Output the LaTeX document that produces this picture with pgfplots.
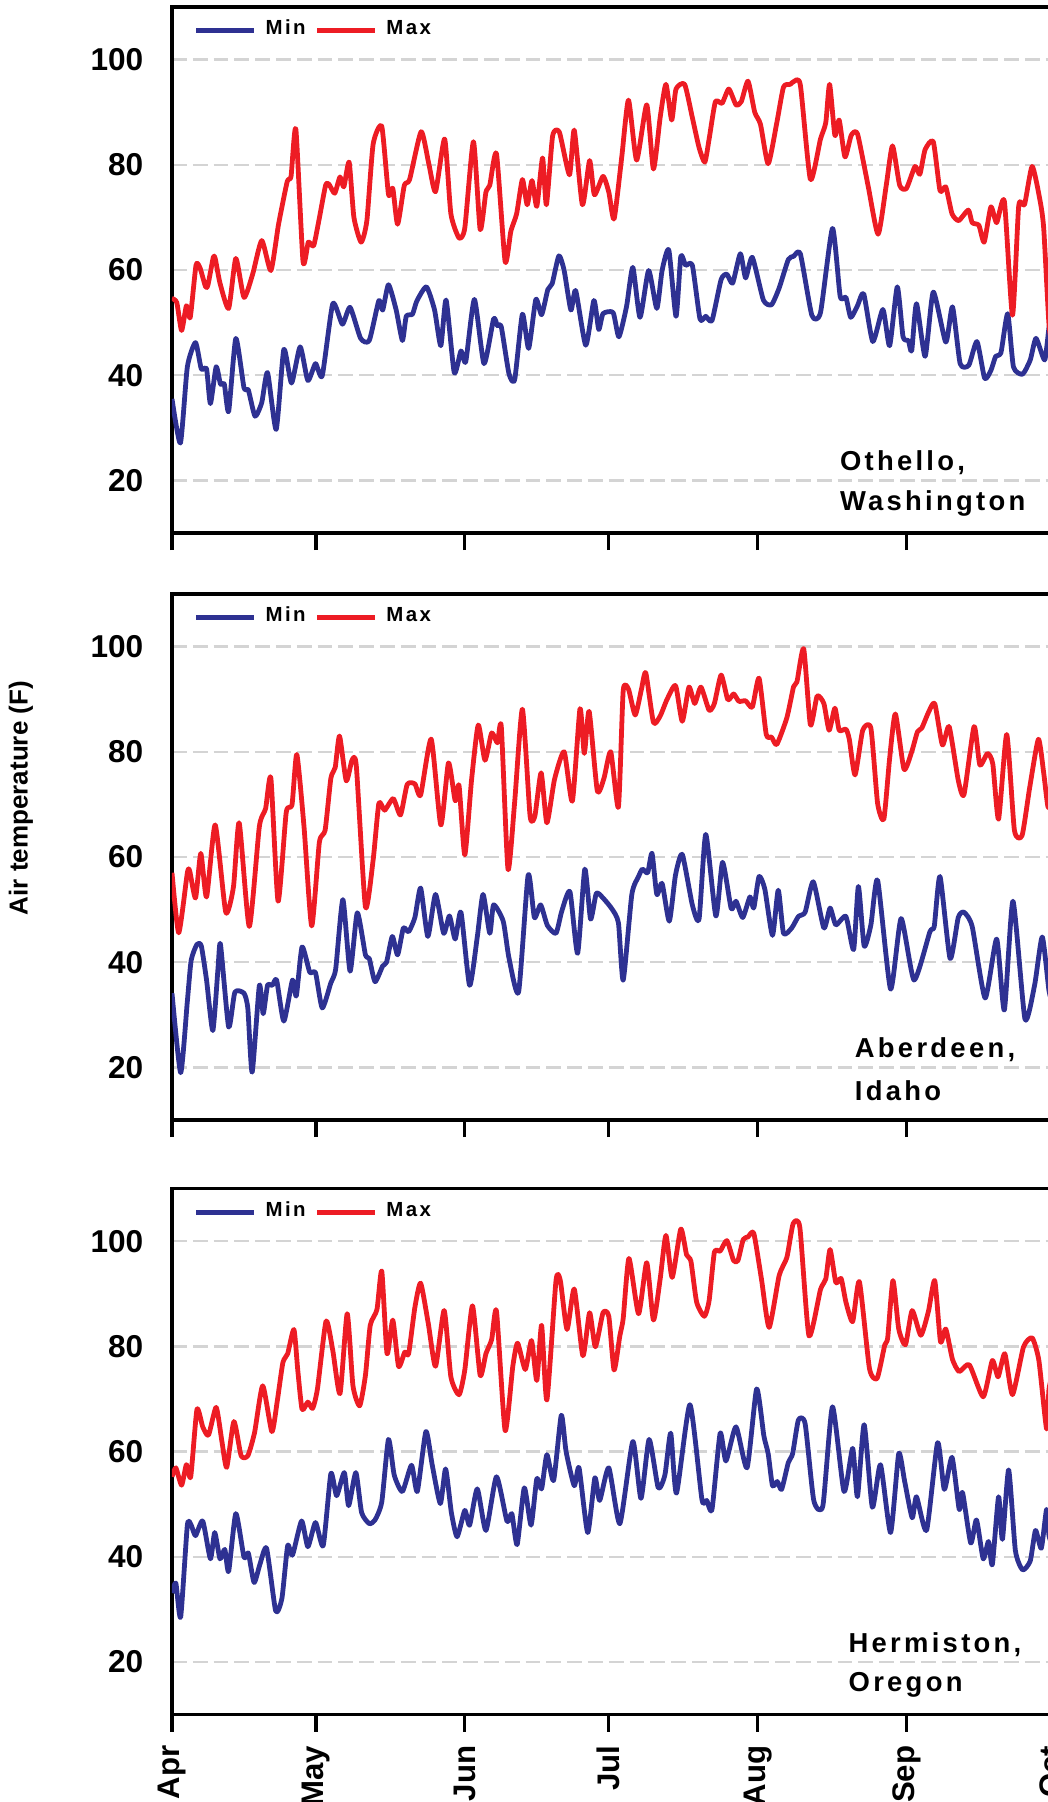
\documentclass[border=0pt]{standalone}
\usepackage{pgfplots}
\pgfplotsset{compat=1.18}
\usepackage{fontspec}
\setmainfont{Liberation Sans}[LetterSpace=12]
\newfontfamily\plainsans{Liberation Sans}
\definecolor{tmax}{RGB}{237,28,36}
\definecolor{tmin}{RGB}{46,49,146}
\definecolor{gridc}{RGB}{212,212,212}
\tikzset{station/.style={anchor=west, font=\bfseries\fontsize{6.85}{8}\selectfont, inner sep=0pt}}
\pgfplotsset{
  panel/.style={
    scale only axis, width=222pt, height=131.5pt,
    xmin=0, xmax=185, ymin=10, ymax=110,
    xtick={0,30,61,91,122,153,183},
    xtick pos=bottom, tick align=outside,
    major tick length=4.25pt,
    xtick style={line width=0.8pt, black},
    ytick={20,40,60,80,100},
    ytick style={draw=none},
    ymajorgrids,
    grid style={gridc, line width=0.6pt, dash pattern=on 3.7pt off 1.5pt},
    axis line style={line width=0.8pt},
    /pgf/number format/assume math mode=true,
    yticklabel style={font=\plainsans\bfseries\fontsize{7.9}{8}\selectfont, xshift=0.6pt},
    xticklabel style={font=\plainsans\bfseries\fontsize{7.8}{8}\selectfont, rotate=90, anchor=east},
    legend columns=2,
    legend style={at={(0,1)}, anchor=north west, xshift=5.25pt, yshift=-1.1pt,
      draw=none, fill=none, inner sep=0pt,
      font=\bfseries\fontsize{5.1}{6}\selectfont,
      /tikz/every odd column/.append style={column sep=0.25pt},
      /tikz/every even column/.append style={column sep=0.25pt}},
    legend image code/.code={\draw[#1] (0pt,0pt) -- (14.5pt,0pt);},
    every axis plot/.append style={line width=1.2pt, smooth, tension=0.35, line join=round},
  },
}
\begin{document}
\begin{tikzpicture}
% ---------------- Othello, Washington
\begin{axis}[panel, at={(0,0)}, anchor=north west, xticklabels={}]
\addplot[tmin] coordinates {(0,35.5) (1.75,27.1) (3.2,41.6) (4.9,46.2) (6.1,41.2) (7.2,41.2) (8,34.6) (9.2,41.6) (10.1,38.3) (10.9,38.3) (11.8,33.1) (13.3,47) (15,37.6) (15.9,37.2) (17.3,32.2) (18.7,34.8) (19.9,40.5) (21.7,29.7) (23.3,44.9) (24.9,38.5) (26.7,45.4) (28.3,39) (29.9,42.2) (31.3,39.9) (33.5,53.6) (35.5,49.7) (37.1,52.9) (39.3,47) (41.1,46.6) (43.1,54.2) (43.9,52.4) (45.1,57.2) (46.7,52.4) (48,46.6) (48.8,51.2) (50.1,51.6) (51,54.1) (53,56.8) (54.7,52.4) (56,45.6) (57.1,54.3) (58.8,40.5) (60.2,44.6) (61.2,42.6) (63,54.4) (65,42.2) (67,50.7) (67.8,49.4) (68.6,49.2) (70.2,40.3) (71.4,39.2) (73,51.6) (74.3,45.1) (75.8,54.4) (77,51.5) (78.3,56.3) (79.2,57.4) (80.6,62.7) (81.7,59.9) (83.1,52.4) (84.1,56.1) (86.2,45.7) (87.9,54.2) (88.9,48.7) (89.8,51.7) (91.9,51.9) (93.1,47.3) (94.7,53.1) (96,60.5) (97.5,51) (99.3,59.9) (101,52.7) (102.1,59.9) (103.5,63.8) (105,51.2) (106,62.6) (107,60.9) (108.4,60.9) (110,50.7) (111.2,51.2) (112.5,50.4) (114.4,58.2) (115.6,59.2) (116.8,57.5) (118.4,63.1) (119.5,58.5) (120.9,62.4) (123.2,54.3) (124.9,53.4) (126.5,56.6) (128.4,62) (129.5,62.6) (130.9,63.1) (133.3,51.4) (135.1,51.9) (137.6,67.9) (139.2,55) (140.4,54.8) (141.4,51) (142.8,53.2) (144.1,55.5) (146,46.4) (148.1,52.5) (149.5,45.6) (151.1,56.8) (152.3,47.3) (153.4,46.6) (154.1,44.6) (155.1,53.6) (156.9,43.6) (158.6,55.8) (161.2,46.3) (162.6,53) (164.2,42.2) (166,41.9) (167.7,46.4) (169.3,39.4) (170.6,40.9) (171.6,43.6) (172.7,44.3) (174.1,51.7) (175.3,41.6) (177.2,40.2) (178.8,42.9) (180,47) (181.8,42.9) (182.7,49) (183.5,52)};
\addlegendentry{Min}
\addplot[tmax] coordinates {(0,54.6) (1,53.8) (2,48.5) (3,53.2) (3.8,51) (5,60.9) (5.8,60.5) (7,56.8) (7.5,57.2) (8.6,62.4) (9,62.2) (10,57.5) (11.8,52.7) (13.3,62.2) (15,54.8) (16.8,59.2) (18.7,65.6) (20.6,59.9) (22.2,68.7) (24,76.8) (24.8,77.8) (25.8,86.8) (27.3,61.6) (28.4,65.3) (29.5,64.6) (30.6,69.4) (32,76.1) (32.7,76.3) (33.9,74.6) (35,77.7) (35.8,75.8) (36.9,80.5) (37.9,70) (39.4,65.3) (40.6,69.4) (41.9,83.9) (43.7,87.3) (45.1,74.4) (46,75.5) (47,68.7) (48.4,76.1) (49.5,77.2) (51.9,86.3) (53.5,80.2) (54.9,74.9) (56.8,84.9) (58.1,70.7) (59.8,66.1) (61,68) (62.8,84.4) (64.2,67.7) (65.4,74.8) (66.2,76.1) (67.6,82.1) (69.4,61.6) (70.6,67.4) (71.8,70.7) (73,77.2) (74,72.4) (75,77) (76,72.1) (77.2,81.3) (78,72.4) (79.3,85.5) (80.7,86.2) (82.8,78.1) (83.8,86.6) (85.5,72.4) (87,80.8) (88,74.3) (89.8,77.8) (91,74.8) (92.1,69.7) (93.7,81.5) (95.1,92.3) (96.8,80.9) (98.9,91.4) (100.3,79.2) (101.7,89) (102.9,95.3) (104.1,88.5) (105,94.4) (106.8,95.3) (108.4,89) (109.8,83.3) (111,80.5) (111.9,84.9) (113.2,92) (114.6,91.7) (116,94.4) (117.5,91.4) (118.6,92) (120,95.9) (121.4,90) (122.6,87.7) (124.2,80.2) (126,88) (127.4,94.8) (128.8,95.3) (129.5,95.8) (130.9,95.2) (133,77.2) (135.1,84.9) (136.2,88) (137,95.3) (138.1,85.6) (139,88.5) (140.2,81.5) (141.5,85.6) (142.8,85.9) (145,76.1) (147.1,66.8) (148.8,76.1) (150.1,83.6) (151.6,76.1) (153,75.5) (154.8,79.7) (155.8,78.2) (156.9,82.9) (158.6,84.4) (160,75.1) (161.2,75.8) (162.5,70.7) (163.9,69.4) (165.9,71.4) (166.7,69) (168.1,68.5) (169.2,65.3) (170.6,72) (171.8,69) (173.4,73.1) (175.1,51.4) (176.4,72.2) (177.6,72.4) (179.2,79.7) (180.8,73.4) (181.6,68) (182.7,49.7) (183.5,45)};
\addlegendentry{Max}
\node[station] at (axis cs:139,23.3) {Othello,};
\node[station] at (axis cs:139,15.6) {Washington};
\end{axis}
% ---------------- Aberdeen, Idaho
\begin{axis}[panel, at={(0,-146.75pt)}, anchor=north west, xticklabels={}]
\addplot[tmin] coordinates {(0,34.1) (1.8,19) (3.2,32.6) (4,40.4) (5.2,43.4) (6.1,43.1) (7.2,36.6) (8.5,27) (9.6,39) (10.1,43.4) (11.8,27.7) (13.1,34.3) (15,34.1) (15.8,31.2) (16.7,19.1) (18.2,35.6) (19,30.2) (19.9,35.6) (20.9,35.6) (21.8,36.6) (23.3,28.8) (25.1,36.6) (25.9,33.6) (27.1,42.9) (28.7,38.1) (29.9,38) (31.3,31.3) (33.1,36.1) (34.1,38.7) (35.6,51.9) (37.1,38.3) (38.6,49.4) (40.3,41.4) (41.1,40.7) (42.3,36.3) (43.9,39.3) (44.7,40) (45.9,44.9) (47,41.4) (48.2,46.5) (49.3,45.8) (50.6,48.5) (51.8,54.1) (53.3,44.9) (54.9,52.9) (56.6,45.5) (57.8,48.8) (59,44.4) (60.2,49.5) (62,35.6) (63.6,44.8) (64.8,52.9) (66.2,45.5) (67,50.9) (69,47.8) (70.2,40.8) (72.2,34.3) (74.2,56.6) (75.5,48.5) (76.8,50.9) (78.2,47) (80,45.5) (81.2,49.7) (82.9,53.4) (84.5,41.7) (86,57.7) (87.2,48.2) (88.4,53.1) (89.8,52.2) (91.6,50.2) (93,47.5) (94,36.6) (95.8,52.9) (97.2,56.3) (98,57.7) (99.1,57) (100,60.7) (101,52.9) (102.1,55) (103.6,47.8) (104.9,56.6) (106.3,60.5) (108.4,50.9) (109.8,48.2) (111.2,64.3) (113.3,48.8) (114.7,59) (116.5,50.2) (117.5,51.6) (118.9,48.5) (120.4,52.4) (121.2,50.3) (122.3,56.3) (123.5,53.9) (125.1,45.1) (126.3,53.7) (127.4,45.5) (129.1,46.5) (130.5,48.7) (131.9,49.5) (133.6,55.3) (135.8,46.5) (137.1,50.3) (138.3,47.1) (140.4,48.7) (142,42.4) (143,54.4) (144.2,43.1) (145.6,47.1) (147,55.6) (149.7,34.9) (151.9,48.3) (154.6,36.6) (157.9,45.8) (158.8,46.8) (160,56.3) (162.1,40.7) (163.8,48.5) (165,49.5) (166.7,46.8) (169.4,33.2) (171.8,44.4) (173.4,30.9) (175.2,51.6) (177.7,29.2) (179.7,35.6) (181.3,44.8) (182.7,34.6) (183.5,32)};
\addlegendentry{Min}
\addplot[tmax] coordinates {(0,57) (1.4,45.6) (3.2,57) (3.7,57.3) (4.9,52.2) (6,60.7) (7.2,52.4) (9,66.1) (11.2,49.5) (12.8,54.3) (14,66.5) (16.1,46.8) (18.2,65.8) (19.5,69.2) (20.6,75) (22.1,51.6) (23.8,68.5) (25,69.9) (26,79.5) (27.5,65.8) (29.1,46.9) (30.7,62.8) (31.9,65.1) (33.1,75) (34,77) (34.9,83) (36.3,74.5) (37.5,78.4) (38.4,77.3) (40.3,50.5) (41.9,59.4) (43.1,70.2) (44.3,68.9) (46.1,71.1) (47.6,68) (49,73.8) (50.6,73.9) (51.8,71.8) (54,82.4) (56,66.1) (57.6,77.9) (59,70.7) (59.8,73.6) (61,60.4) (62.4,74.6) (63.8,85.1) (65.2,78.4) (66.6,83.6) (67.8,81.7) (68.6,84.8) (70,57.7) (71.4,70.6) (73,88.1) (74.6,67.8) (75.6,67.8) (76.9,76) (78.1,66.5) (79.7,74.8) (81.7,80) (83.4,70.6) (85,88.2) (85.9,79.7) (86.9,87.7) (88.6,72.6) (90,75) (91.4,80) (93,69.5) (94,91.6) (95.1,91.9) (96.5,87) (97.8,91.9) (98.7,95) (100.3,85.6) (101.7,86.8) (103.1,89.9) (104.9,92.6) (106.3,85.8) (107.7,92.3) (108.9,89.2) (110.2,92.3) (111.9,87.9) (113,89.2) (114.4,94.6) (115.8,89.9) (117,91) (118.1,89.6) (119.5,89.7) (120.9,88.5) (122.3,94) (123.8,83.3) (124.9,82.8) (126,81.4) (128.1,86.5) (129.5,92.4) (130.2,93.3) (131.6,99.6) (133,85.1) (134.4,90.6) (135.8,89.2) (136.9,84.1) (138.1,88.3) (139,84.1) (140.4,84.3) (141.1,82.4) (142.3,75.6) (143.9,84.1) (145.6,84.5) (147,70.2) (148.3,67.2) (149.5,78.7) (150.7,87.2) (152.5,76.7) (154.1,80) (155.3,83.8) (156.2,84.5) (157.6,87.5) (158.9,89.2) (160.5,81.3) (161.9,84.8) (163.8,74.6) (165,71.9) (167.1,84.8) (168.3,77.5) (169.9,79.7) (171,77.7) (172.2,67.2) (173.9,83.3) (175.5,65.1) (177.1,64.1) (178.7,73.3) (180.5,82.4) (181.6,76) (182.5,69.5) (183.5,70)};
\addlegendentry{Max}
\node[station] at (axis cs:142.1,23.3) {Aberdeen,};
\node[station] at (axis cs:142.1,15.6) {Idaho};
\end{axis}
% ---------------- Hermiston, Oregon
\begin{axis}[panel, at={(0,-295.375pt)}, anchor=north west,
  xticklabels={Apr,May,Jun,Jul,Aug,Sep,Oct}]
\addplot[tmin] coordinates {(0,33.1) (0.8,35) (1.8,28.5) (3.2,46) (4,46) (4.9,44) (6.4,46.8) (8,39.6) (8.9,44.6) (10,39.6) (11,41.4) (11.8,37.2) (13.3,48.2) (15,39.9) (15.9,40.7) (17.1,35.1) (18.3,38.5) (19.7,41.6) (21.6,29.7) (22.9,32.1) (24.1,42.1) (25.1,40.3) (27,46.8) (28.3,41.9) (29.9,46.5) (31.5,42.1) (33.1,55.8) (34.3,51.6) (35.9,56) (36.8,49.7) (38.3,56) (39.5,48.4) (41.1,46.3) (42.3,47) (43.7,50.4) (45.1,62.3) (46.3,55.5) (48,52.4) (49.9,57.4) (51.1,52.4) (52.9,63.8) (54.2,57.5) (55.9,50.1) (57,56.7) (58.2,48.4) (59.4,43.8) (61,48.8) (62,46) (63.6,52.9) (65.4,45) (67.6,55.2) (69.8,46.7) (70.8,48.2) (71.9,42.3) (73.4,53.1) (74.8,46) (76,54.8) (77,52.9) (78.1,59.4) (79.5,54.5) (81.1,66.9) (82.1,60) (83.8,53.5) (84.8,56.9) (86.6,44.6) (88.1,55) (89.1,50.7) (91,56.9) (93.3,46.3) (96,61.9) (97.7,51.1) (99.4,62.3) (101.3,53.1) (102.7,55.6) (103.9,63.5) (105.1,52.1) (107.9,68.9) (110.4,50.9) (111.4,50.7) (112.5,49) (114.2,63.5) (115.4,58.2) (117.5,64.7) (119.8,56.9) (121.8,71.9) (123.3,63) (124.2,59.6) (125.1,53.5) (126.1,54.3) (127,52.8) (128.4,57.9) (129.3,59.6) (130.5,66) (131.9,65.3) (133.7,50.7) (135.6,49.7) (137.6,68.5) (140,52.4) (141.8,60.6) (142.8,51.4) (144.2,65.1) (145.9,49.4) (147.6,57.5) (149.7,44.6) (151.4,59.6) (152.6,54.5) (154.2,47.4) (155.1,51.4) (157.2,45) (159.5,61.7) (160.9,52.8) (162.5,58.9) (164,49) (164.7,52.2) (166.4,42.6) (167.6,47) (169,39.6) (170.1,42.9) (170.9,38.5) (172.2,51.4) (173,43.3) (174.3,56.5) (175.7,41.2) (177.2,37.5) (178.8,39.2) (179.9,45) (181.1,41.6) (182.2,49) (182.7,44) (183.5,42)};
\addlegendentry{Min}
\addplot[tmax] coordinates {(0,55.2) (0.8,56.9) (2,53.6) (3,57.5) (3.9,55.2) (5.2,68) (6.4,64.7) (7.6,63.1) (9.2,68.4) (10.4,61.9) (11.4,57) (12.9,65.7) (14.4,59.2) (15.8,59.2) (17.2,63.6) (18.9,72.5) (20.8,63.8) (21.9,69.4) (23.1,76.9) (24.1,78.6) (25.4,83.2) (26.2,75.5) (27.1,68) (28.3,69.4) (29.3,68.2) (30.3,71.9) (32.1,84.8) (33.5,79.2) (35,71) (36.5,86.2) (37.7,72.5) (39.1,68.7) (40.3,74.5) (41.3,84) (42.7,87) (43.7,94.3) (44.8,78.6) (46,85) (47.2,76.2) (48.5,78.9) (49.3,78.6) (50.6,87.4) (51.8,92) (53.4,84.3) (54.9,76.2) (56.7,86.8) (58.1,74.2) (59.8,70.8) (61,75.5) (62.6,87.7) (64.2,74.5) (65.4,78.6) (66.6,81.3) (67.6,86.7) (69.4,64) (71,76.2) (72,80.6) (73.6,75.6) (74.9,81.1) (76,73.5) (77,84) (78.1,69.8) (80,92.5) (80.9,92.5) (82.3,83.2) (83.8,90.9) (85.6,78.2) (87,86.4) (88.2,79.9) (89.8,86.4) (91,85.7) (92.1,75.5) (93.3,82) (94,85.3) (95.2,96.7) (97.2,86.2) (98.9,95.9) (100.3,85) (101.7,92.8) (102.9,101.1) (104.2,93.1) (106,102.3) (107.2,97.4) (108.1,96.2) (109.3,88.4) (110.9,85.7) (111.9,88.7) (113,97.9) (114.2,98.1) (115.6,100.1) (117,96.3) (117.9,96.3) (119,100.3) (120,100.8) (121.2,101.5) (122.8,92.8) (124.4,83.6) (126.5,93.5) (128.1,96.9) (129.4,103.3) (130.8,102.6) (132.7,82) (135.1,90.8) (136.2,92.8) (137.1,98.4) (138.3,92.1) (139.4,92.9) (140.4,88.4) (141.8,84.7) (143.2,92.3) (145.3,75.8) (146.9,73.9) (148.5,80.3) (149.1,81.6) (150.2,92.5) (151.4,83.3) (152.8,80.3) (154.2,86.8) (156,82.1) (157.6,86.7) (158.9,92.5) (160.1,80.9) (161.2,83.3) (162.6,77.5) (164,75.2) (166.1,76.5) (169,70.4) (170.9,77.3) (172.1,74.2) (173.5,78.6) (175.1,70.8) (177.4,79.9) (179.2,81.6) (180.6,77.3) (182.2,64.3) (182.7,71.8) (183.5,75)};
\addlegendentry{Max}
\node[station] at (axis cs:140.8,23.3) {Hermiston,};
\node[station] at (axis cs:140.8,15.6) {Oregon};
\end{axis}
\node[rotate=90, font=\plainsans\bfseries\fontsize{6.5}{7}\selectfont] at (-37.75pt,-197.75pt) {Air temperature (F)};
\pgfresetboundingbox
\path[use as bounding box] (-43pt,1.75pt) rectangle (219pt,-448.75pt);
\end{tikzpicture}
\end{document}
